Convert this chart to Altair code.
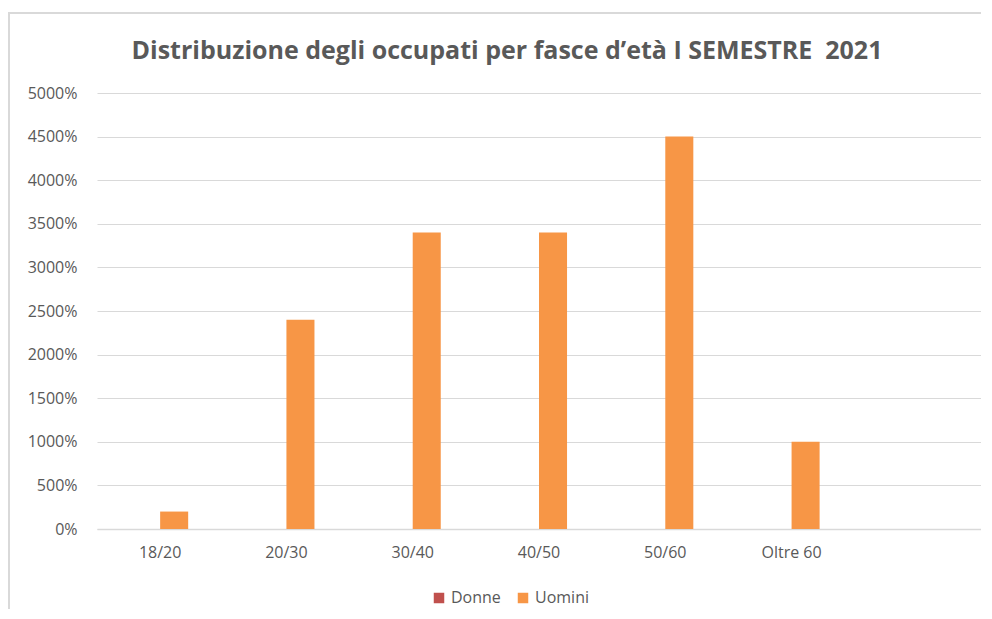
import altair as alt
import pandas as pd

categories = ["18/20", "20/30", "30/40", "40/50", "50/60", "Oltre 60"]
extra_slot = [""]
series = ["Donne", "Uomini"]
donne = [0, 0, 0, 0, 0, 0]
uomini = [2, 24, 34, 34, 45, 10]
y_ticks = [0, 5, 10, 15, 20, 25, 30, 35, 40, 45, 50]
colors = ["#C0504D", "#F79646"]

rows = []
for c, d, u in zip(categories, donne, uomini):
    rows.append({"fascia": c, "serie": "Donne", "valore": d})
    rows.append({"fascia": c, "serie": "Uomini", "valore": u})
df = pd.DataFrame(rows)

W, H = 884, 436
FONT = "Open Sans"
GRAY = "#595959"

bars = alt.Chart(df).mark_bar().encode(
    x=alt.X("fascia:N", sort=categories + extra_slot,
            scale=alt.Scale(domain=categories + extra_slot, paddingInner=0.556, paddingOuter=0.278),
            axis=alt.Axis(title=None, labelAngle=0, labelFontSize=16, labelColor=GRAY,
                          labelFont=FONT, labelPadding=15, ticks=False, domainColor="#d9d9d9",
                          domainWidth=1.5, grid=False)),
    xOffset=alt.XOffset("serie:N", sort=series, scale=alt.Scale(domain=series, paddingInner=0)),
    y=alt.Y("valore:Q", scale=alt.Scale(domain=[0, 50], nice=False),
            axis=alt.Axis(title=None, values=y_ticks, format=".0%", labelFontSize=16,
                          labelColor=GRAY, labelFont=FONT, labelPadding=20, ticks=False,
                          domain=False, gridColor="#d9d9d9", gridWidth=1)),
    color=alt.Color("serie:N", sort=series,
                    scale=alt.Scale(domain=series, range=colors),
                    legend=alt.Legend(title=None, orient="none", legendX=334, legendY=497,
                                      direction="horizontal", symbolType="square",
                                      symbolSize=110, labelFontSize=16, labelColor=GRAY,
                                      labelFont=FONT, columnPadding=14, symbolStrokeWidth=0)),
)

frame_top = alt.Chart(df).mark_rule(color="#d9d9d9", strokeWidth=2).encode(
    x=alt.value(-90), x2=alt.value(W + 30), y=alt.value(-80))
frame_left = alt.Chart(df).mark_rule(color="#d9d9d9", strokeWidth=2).encode(
    x=alt.value(-88), y=alt.value(-80), y2=alt.value(H + 100))

chart = alt.layer(frame_top, frame_left, bars).properties(
    width=W, height=H,
    autosize=alt.AutoSizeParams(type="none"),
    padding={"left": 89, "top": 85, "right": 0, "bottom": 80},
    title=alt.TitleParams("Distribuzione degli occupati per fasce d’età I SEMESTRE\u00a0 2021",
                          fontSize=25, font=FONT, fontWeight="bold", color=GRAY,
                          anchor="middle", frame="group", dx=-32, offset=0, dy=52),
).configure_view(stroke=None)

chart.save("out.html", embed_options={"renderer": "svg", "actions": False})
